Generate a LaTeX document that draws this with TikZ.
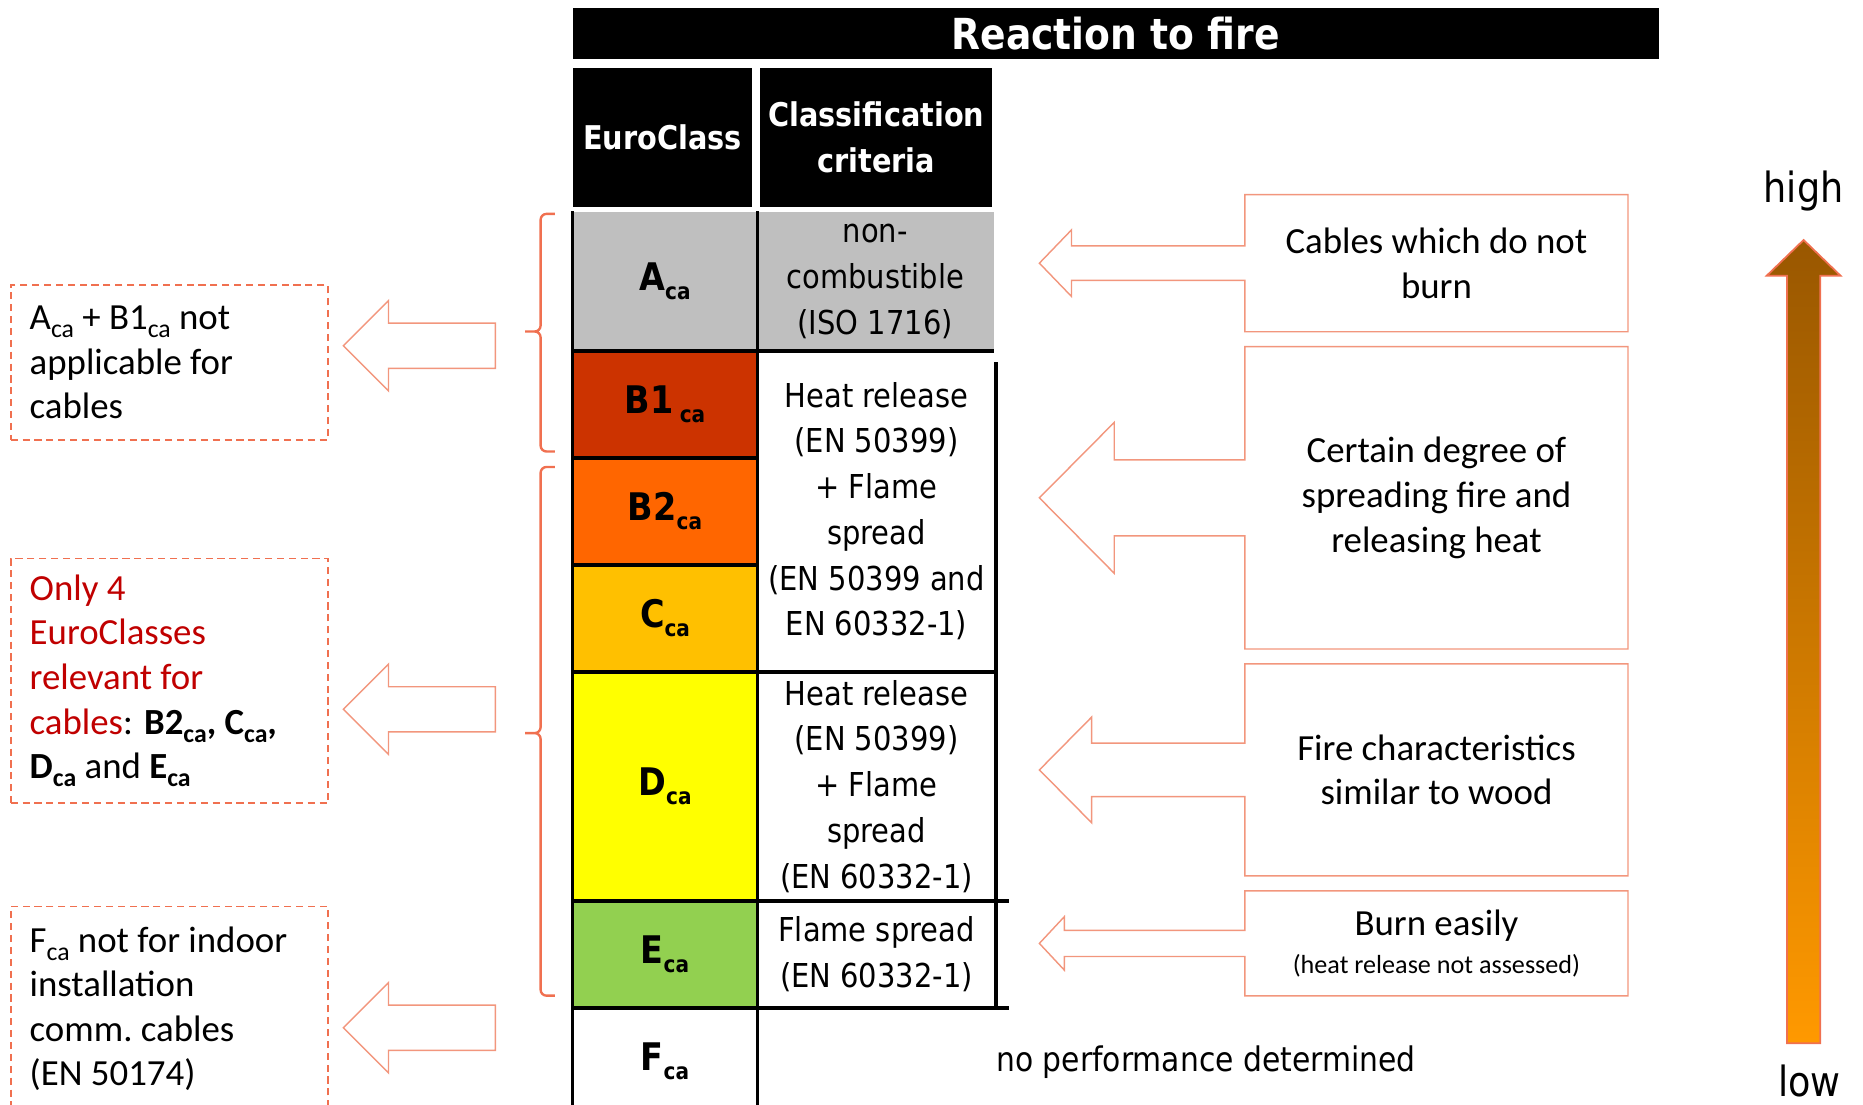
\documentclass[tikz,border=0pt]{standalone}
\usepackage{fontspec}
\setmainfont{Carlito}
\newfontfamily\tabfont[FakeStretch=0.88]{DejaVu Sans}
\usepackage{graphicx}
\usepackage{tikz}
\definecolor{cA}{RGB}{191,191,191}
\definecolor{cBone}{RGB}{204,51,0}
\definecolor{cBtwo}{RGB}{255,102,0}
\definecolor{cC}{RGB}{255,192,0}
\definecolor{cD}{RGB}{255,255,0}
\definecolor{cE}{RGB}{146,208,80}
\definecolor{lineor}{RGB}{240,112,80}
\definecolor{callor}{RGB}{242,150,125}
\definecolor{textred}{RGB}{192,0,0}
\definecolor{arrtop}{RGB}{153,87,0}
\definecolor{arrbot}{RGB}{255,153,0}
\newcommand\ca[1][.6]{\raisebox{-.22em}{\scalebox{#1}{ca}}}
\def\dtab{\draw[line width=3pt]}
\def\dbrace{\draw[lineor,line width=2pt,rounded corners=5pt]}
\def\leftarr{-- ++(-90pt,0pt) -- ++(0pt,19pt) -- ++(-38pt,-38pt) -- ++(38pt,-38pt) -- ++(0pt,19pt) -- ++(90pt,0pt) -- cycle}
\def\callout#1#2#3#4{\draw[callline] ([yshift=#2pt]#1.west) -- (#1.north west) -- (#1.north east)
    -- (#1.south east) -- (#1.south west) -- ([yshift=-#2pt]#1.west)
    -- ([xshift=-#4pt,yshift=-#2pt]#1.west) -- ([xshift=-#4pt,yshift=-#3pt]#1.west)
    -- ([xshift=-173pt]#1.west) -- ([xshift=-#4pt,yshift=#3pt]#1.west)
    -- ([xshift=-#4pt,yshift=#2pt]#1.west) -- cycle;}
\tikzset{
  hdr/.style={fill=black, text=white, align=center, inner sep=0pt,
    font=\tabfont\bfseries\fontsize{27.5}{39}\selectfont},
  cell/.style={anchor=north west, minimum width=155, inner sep=0pt,
    font=\tabfont\bfseries\fontsize{32}{38}\selectfont},
  critcell/.style={anchor=north west, minimum width=201, inner sep=0pt, align=center,
    font=\tabfont\fontsize{27.7}{38.5}\selectfont},
  notebox/.style={draw=lineor, dash pattern=on 6pt off 4pt, line width=1.5pt,
    text width=235, inner xsep=16pt, inner ysep=0pt, font=\fontsize{31}{37.5}\selectfont,
    execute at begin node={\raggedright\spaceskip=0pt\xspaceskip=0pt}},
  callbox/.style={minimum width=322, align=center, inner sep=0pt,
    font=\fontsize{31}{37.5}\selectfont},
  callline/.style={draw=callor, line width=1.2pt},
}
\begin{document}
\begin{tikzpicture}[x=1pt, y=-1pt]
\useasboundingbox (0,0) rectangle (1568,930);
\clip (0,0) rectangle (1568,930);

\node[hdr, minimum width=914, minimum height=43, font=\tabfont\bfseries\fontsize{36}{40}\selectfont] (title) at (939,28) {Reaction to fire};
\node[hdr, minimum width=151, minimum height=117] (euro) at (557.5,115.5) {EuroClass};
\node[hdr, minimum width=195, minimum height=117] (crit) at (737.5,115.5) {Classification\\criteria};

\node[cell, fill=cA, minimum height=117] (Aca) at (482,178) {A\ca};
\node[cell, fill=cBone, minimum height=90] (Bone) at (482,295) {B1\,\ca};
\node[cell, fill=cBtwo, minimum height=90] (Btwo) at (482,385) {B2\ca};
\node[cell, fill=cC, minimum height=90] (Cca) at (482,475) {C\ca};
\node[cell, fill=cD, minimum height=193] (Dca) at (482,565) {D\ca};
\node[cell, fill=cE, minimum height=90] (Eca) at (482,758) {E\ca};
\node[cell, minimum height=90] (Fca) at (482,848) {F\ca};

\node[critcell, fill=cA, minimum width=199, minimum height=117] (critA) at (637,178) {non-\\combustible\\(ISO 1716)};
\node[critcell, minimum height=270] (critBC) at (637,295) {Heat release\\(EN 50399)\\+ Flame\\spread\\(EN 50399 and\\EN 60332-1)};
\node[critcell, minimum height=193] (critD) at (637,565) {Heat release\\(EN 50399)\\+ Flame\\spread\\(EN 60332-1)};
\node[critcell, minimum height=90] (critE) at (637,758) {Flame spread\\(EN 60332-1)};
\node[font=\tabfont\fontsize{28.5}{38.5}\selectfont] (noperf) at (1015,894) {no performance determined};

\dtab (Aca.north west) -- (Fca.south west);
\dtab (Aca.north east) -- (Fca.south east);
\dtab (Aca.south west) -- (critA.south east);
\dtab (Bone.south west) -- (Bone.south east);
\dtab (Btwo.south west) -- (Btwo.south east);
\dtab (Cca.south west) -- ([xshift=1.5pt]critBC.south east);
\dtab (Dca.south west) -- ([xshift=11pt]critD.south east);
\dtab (Eca.south west) -- ([xshift=11pt]critE.south east);
\dtab ([yshift=-10pt]critBC.north east) -- (critE.south east);

\dbrace (467,180) -- (455,180) -- (455,279) -- (442,279) (442,279) -- (455,279) -- (455,380) -- (467,380);
\dbrace (467,393) -- (455,393) -- (455,617) -- (442,617) (442,617) -- (455,617) -- (455,838) -- (467,838);

\node[notebox, minimum height=130] (notAB) at (142.5,305) {A\ca[.7] + B1\ca[.7] not\\applicable for\\cables};
\node[notebox, minimum height=206] (onlyfour) at (142.5,573) {{\color{textred}Only 4\\EuroClasses\\relevant for\\cables}: \textbf{B2\ca[.7], C\ca[.7],}\\\textbf{D\ca[.7]} and \textbf{E\ca[.7]}};
\node[notebox, minimum height=172] (notF) at (142.5,849) {F\ca[.7] not for indoor\\installation\\comm.\ cables\\(EN 50174)};

\draw[callline] (417,272) \leftarr;
\draw[callline] (417,578) \leftarr;
\draw[callline] (417,846) \leftarr;

\node[callbox, minimum height=115] (noburn) at (1209,221.5) {Cables which do not\\burn};
\node[callbox, minimum height=254] (spread) at (1209,419) {Certain degree of\\spreading fire and\\releasing heat};
\node[callbox, minimum height=178] (wood) at (1209,648) {Fire characteristics\\similar to wood};
\node[callbox, minimum height=88, font=\fontsize{31}{32}\selectfont] (easy) at (1209,794) {Burn easily\\{\fontsize{22}{30}\selectfont(heat release not assessed)}};
\callout{noburn}{14.5}{28}{146}
\callout{spread}{32}{63.5}{110}
\callout{wood}{22.5}{44.5}{129}
\callout{easy}{11}{22.5}{152}

\shadedraw[top color=arrtop, bottom color=arrbot, draw=lineor, line width=1.5pt]
  (1504,878) -- (1504,232) -- (1487,232) -- (1518,202) -- (1549,232) -- (1532,232) -- (1532,878) -- cycle;
\node[font=\tabfont\fontsize{35}{40}\selectfont] (high) at (1518,161) {high};
\node[font=\tabfont\fontsize{35}{40}\selectfont] (low) at (1523,910) {low};
\end{tikzpicture}
\end{document}
